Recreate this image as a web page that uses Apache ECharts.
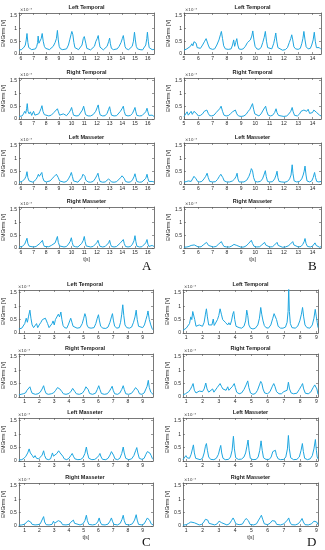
<!DOCTYPE html>
<html>
<head>
<meta charset="utf-8">
<script src="https://cdn.jsdelivr.net/npm/echarts@6/dist/echarts.min.js"></script>
<style>html,body{margin:0;padding:0;background:#fff;}#c{width:325px;height:550px;}</style>
</head>
<body>
<div id="c"></div>
<script>
// ---- titles & ticks ----
const subTitles = ['Left Temporal','Right Temporal','Left Masseter','Right Masseter'];
const yTicks = [0, 0.5, 1, 1.5];
const yTickLabels = ['0','0.5','1','1.5'];
const ticksA = [6,7,8,9,10,11,12,13,14,15,16];
const ticksB = [5,6,7,8,9,10,11,12,13,14];
const ticksC = [1,2,3,4,5,6,7,8,9];
const ticksD = [1,2,3,4,5,6,7,8,9];

// ---- Panel A (units 1e-4 V) ----
const A_leftTemporal = [[5.85,0.16],[5.95,0.18],[6.05,0.17],[6.15,0.2],[6.25,0.27],[6.35,0.35],[6.42,0.55],[6.48,0.8],[6.55,0.45],[6.62,0.25],[6.72,0.2],[6.85,0.17],[7.0,0.18],[7.15,0.2],[7.25,0.3],[7.32,0.45],[7.36,0.7],[7.42,0.42],[7.5,0.48],[7.6,0.6],[7.68,0.8],[7.76,0.5],[7.85,0.3],[7.95,0.22],[8.1,0.18],[8.25,0.17],[8.4,0.2],[8.55,0.3],[8.7,0.45],[8.8,0.6],[8.88,0.92],[8.95,0.55],[9.02,0.3],[9.12,0.2],[9.3,0.17],[9.45,0.18],[9.6,0.2],[9.75,0.35],[9.85,0.55],[9.95,0.75],[10.02,0.88],[10.1,0.75],[10.18,0.45],[10.26,0.25],[10.4,0.18],[10.55,0.17],[10.7,0.2],[10.82,0.35],[10.92,0.6],[11.0,0.68],[11.06,0.62],[11.12,0.42],[11.2,0.22],[11.35,0.17],[11.5,0.16],[11.65,0.18],[11.8,0.3],[11.92,0.5],[12.02,0.6],[12.1,0.72],[12.16,0.5],[12.24,0.27],[12.35,0.2],[12.5,0.16],[12.65,0.18],[12.8,0.3],[12.92,0.48],[13.0,0.62],[13.06,0.4],[13.14,0.22],[13.3,0.17],[13.45,0.16],[13.6,0.2],[13.75,0.3],[13.9,0.45],[14.0,0.6],[14.08,0.72],[14.15,0.5],[14.22,0.28],[14.32,0.2],[14.5,0.17],[14.65,0.18],[14.78,0.3],[14.88,0.5],[14.96,0.85],[15.03,0.55],[15.1,0.3],[15.2,0.2],[15.4,0.17],[15.6,0.16],[15.75,0.2],[15.85,0.35],[15.93,0.6],[15.98,0.85],[16.05,0.5],[16.12,0.25],[16.22,0.18],[16.35,0.17],[16.5,0.18]];
const A_rightTemporal = [[5.85,0.1],[6.0,0.14],[6.1,0.12],[6.2,0.2],[6.3,0.3],[6.38,0.22],[6.45,0.4],[6.5,0.6],[6.56,0.3],[6.65,0.2],[6.75,0.28],[6.85,0.14],[7.0,0.3],[7.1,0.15],[7.25,0.13],[7.4,0.2],[7.5,0.3],[7.6,0.42],[7.66,0.52],[7.74,0.3],[7.85,0.17],[8.0,0.13],[8.2,0.12],[8.4,0.15],[8.6,0.25],[8.75,0.32],[8.88,0.4],[8.96,0.28],[9.05,0.15],[9.2,0.12],[9.35,0.2],[9.42,0.13],[9.6,0.13],[9.8,0.25],[9.92,0.35],[10.0,0.45],[10.07,0.3],[10.15,0.15],[10.35,0.12],[10.55,0.13],[10.7,0.18],[10.85,0.35],[10.95,0.5],[11.02,0.35],[11.1,0.17],[11.3,0.12],[11.5,0.12],[11.7,0.17],[11.9,0.3],[12.02,0.45],[12.1,0.55],[12.17,0.32],[12.25,0.16],[12.45,0.12],[12.65,0.13],[12.8,0.22],[12.92,0.38],[13.0,0.48],[13.07,0.3],[13.15,0.15],[13.35,0.12],[13.55,0.13],[13.7,0.2],[13.85,0.3],[14.0,0.42],[14.08,0.5],[14.15,0.3],[14.25,0.15],[14.45,0.12],[14.65,0.14],[14.8,0.22],[14.92,0.35],[15.0,0.45],[15.07,0.28],[15.15,0.14],[15.35,0.12],[15.55,0.13],[15.7,0.18],[15.85,0.28],[15.95,0.42],[16.02,0.28],[16.1,0.14],[16.25,0.12],[16.35,0.15],[16.5,0.1]];
const A_leftMasseter = [[5.85,0.07],[6.0,0.09],[6.1,0.1],[6.2,0.15],[6.3,0.2],[6.4,0.3],[6.48,0.48],[6.55,0.25],[6.65,0.12],[6.8,0.08],[6.95,0.07],[7.1,0.1],[7.2,0.18],[7.3,0.28],[7.38,0.38],[7.45,0.3],[7.55,0.35],[7.65,0.45],[7.72,0.25],[7.82,0.12],[8.0,0.08],[8.15,0.07],[8.3,0.12],[8.45,0.2],[8.6,0.28],[8.7,0.3],[8.8,0.38],[8.88,0.45],[8.95,0.25],[9.05,0.12],[9.2,0.08],[9.4,0.07],[9.6,0.1],[9.75,0.2],[9.88,0.32],[9.98,0.45],[10.06,0.3],[10.15,0.12],[10.3,0.08],[10.5,0.07],[10.65,0.12],[10.8,0.25],[10.9,0.38],[10.98,0.45],[11.05,0.3],[11.12,0.15],[11.3,0.08],[11.5,0.07],[11.7,0.1],[11.85,0.2],[11.98,0.32],[12.08,0.42],[12.15,0.25],[12.24,0.1],[12.45,0.07],[12.65,0.08],[12.8,0.14],[12.92,0.2],[13.0,0.25],[13.06,0.15],[13.15,0.08],[13.35,0.07],[13.55,0.09],[13.7,0.15],[13.85,0.24],[13.98,0.32],[14.08,0.38],[14.15,0.22],[14.25,0.1],[14.45,0.07],[14.65,0.08],[14.8,0.16],[14.92,0.28],[15.0,0.4],[15.07,0.25],[15.15,0.1],[15.35,0.07],[15.55,0.08],[15.7,0.12],[15.85,0.22],[15.95,0.38],[16.02,0.22],[16.1,0.1],[16.25,0.07],[16.35,0.1],[16.5,0.08]];
const A_rightMasseter = [[5.85,0.04],[6.0,0.05],[6.1,0.06],[6.2,0.1],[6.3,0.15],[6.4,0.2],[6.48,0.38],[6.55,0.18],[6.65,0.07],[6.8,0.05],[7.0,0.04],[7.2,0.06],[7.35,0.12],[7.5,0.18],[7.62,0.24],[7.7,0.3],[7.77,0.15],[7.85,0.06],[8.0,0.04],[8.2,0.05],[8.4,0.1],[8.55,0.15],[8.7,0.2],[8.8,0.25],[8.88,0.45],[8.95,0.22],[9.05,0.08],[9.2,0.05],[9.4,0.04],[9.6,0.06],[9.75,0.15],[9.88,0.25],[9.98,0.4],[10.05,0.22],[10.13,0.08],[10.3,0.05],[10.5,0.04],[10.65,0.08],[10.8,0.18],[10.92,0.3],[11.0,0.45],[11.07,0.25],[11.15,0.08],[11.3,0.05],[11.5,0.04],[11.7,0.06],[11.85,0.12],[11.98,0.2],[12.08,0.3],[12.15,0.18],[12.23,0.07],[12.45,0.04],[12.65,0.06],[12.8,0.12],[12.92,0.2],[13.0,0.3],[13.07,0.15],[13.15,0.06],[13.35,0.04],[13.55,0.06],[13.7,0.12],[13.85,0.2],[13.98,0.26],[14.08,0.33],[14.15,0.18],[14.25,0.06],[14.45,0.04],[14.65,0.06],[14.8,0.15],[14.92,0.28],[15.0,0.48],[15.07,0.25],[15.15,0.07],[15.35,0.04],[15.55,0.05],[15.7,0.1],[15.85,0.2],[15.95,0.33],[16.02,0.15],[16.1,0.06],[16.25,0.08],[16.35,0.1],[16.5,0.06]];

// ---- Panel B ----
const B_leftTemporal = [[5.0,0.15],[5.1,0.18],[5.2,0.2],[5.3,0.22],[5.45,0.3],[5.55,0.4],[5.62,0.32],[5.7,0.48],[5.78,0.55],[5.85,0.42],[5.92,0.25],[6.0,0.2],[6.15,0.22],[6.3,0.35],[6.45,0.5],[6.55,0.6],[6.62,0.55],[6.7,0.35],[6.8,0.22],[7.0,0.18],[7.15,0.2],[7.3,0.35],[7.45,0.55],[7.55,0.75],[7.62,0.88],[7.7,0.6],[7.78,0.32],[7.9,0.2],[8.1,0.18],[8.3,0.2],[8.4,0.35],[8.48,0.55],[8.55,0.3],[8.62,0.45],[8.7,0.6],[8.77,0.35],[8.85,0.2],[9.0,0.18],[9.15,0.2],[9.3,0.3],[9.45,0.45],[9.55,0.4],[9.65,0.55],[9.75,0.7],[9.82,0.9],[9.9,0.55],[9.98,0.3],[10.1,0.2],[10.25,0.18],[10.4,0.25],[10.52,0.45],[10.62,0.65],[10.7,0.88],[10.78,0.5],[10.86,0.25],[11.0,0.18],[11.15,0.2],[11.28,0.4],[11.36,0.6],[11.43,0.82],[11.5,0.5],[11.58,0.25],[11.7,0.18],[11.9,0.15],[12.1,0.17],[12.25,0.25],[12.38,0.45],[12.48,0.6],[12.55,0.75],[12.62,0.55],[12.7,0.28],[12.82,0.2],[13.0,0.18],[13.15,0.22],[13.25,0.4],[13.33,0.6],[13.4,0.88],[13.48,0.55],[13.56,0.28],[13.7,0.2],[13.85,0.22],[13.95,0.35],[14.05,0.55],[14.13,0.85],[14.2,0.5],[14.28,0.25],[14.38,0.2],[14.48,0.25],[14.6,0.18]];
const B_rightTemporal = [[5.0,0.1],[5.12,0.15],[5.22,0.28],[5.3,0.15],[5.42,0.22],[5.5,0.3],[5.58,0.18],[5.7,0.3],[5.8,0.35],[5.9,0.2],[6.0,0.12],[6.15,0.14],[6.3,0.2],[6.42,0.3],[6.5,0.25],[6.6,0.35],[6.7,0.22],[6.8,0.13],[6.95,0.12],[7.1,0.15],[7.25,0.25],[7.38,0.3],[7.5,0.4],[7.6,0.5],[7.7,0.3],[7.8,0.15],[7.95,0.12],[8.1,0.13],[8.25,0.2],[8.4,0.28],[8.5,0.3],[8.6,0.35],[8.7,0.2],[8.82,0.12],[9.0,0.1],[9.2,0.12],[9.35,0.18],[9.5,0.3],[9.62,0.38],[9.72,0.45],[9.8,0.6],[9.88,0.38],[9.96,0.2],[10.1,0.13],[10.25,0.12],[10.4,0.2],[10.55,0.35],[10.65,0.4],[10.72,0.5],[10.8,0.3],[10.9,0.15],[11.05,0.12],[11.2,0.14],[11.35,0.25],[11.45,0.4],[11.52,0.25],[11.62,0.14],[11.8,0.12],[12.0,0.1],[12.2,0.12],[12.35,0.2],[12.48,0.3],[12.58,0.45],[12.65,0.28],[12.75,0.14],[12.95,0.12],[13.1,0.2],[13.2,0.3],[13.3,0.25],[13.4,0.35],[13.5,0.28],[13.6,0.3],[13.7,0.38],[13.8,0.22],[13.9,0.15],[14.0,0.25],[14.1,0.35],[14.2,0.4],[14.3,0.25],[14.4,0.3],[14.5,0.15],[14.6,0.12]];
const B_leftMasseter = [[5.0,0.08],[5.15,0.09],[5.3,0.12],[5.4,0.15],[5.5,0.1],[5.6,0.2],[5.7,0.3],[5.78,0.35],[5.85,0.2],[5.95,0.1],[6.1,0.08],[6.25,0.1],[6.4,0.2],[6.52,0.3],[6.62,0.42],[6.7,0.25],[6.8,0.1],[7.0,0.08],[7.2,0.09],[7.35,0.18],[7.48,0.3],[7.58,0.38],[7.65,0.42],[7.72,0.25],[7.82,0.12],[8.0,0.08],[8.2,0.08],[8.4,0.12],[8.55,0.2],[8.65,0.3],[8.72,0.42],[8.78,0.2],[8.86,0.08],[9.0,0.07],[9.2,0.08],[9.4,0.15],[9.55,0.3],[9.65,0.45],[9.72,0.6],[9.8,0.52],[9.88,0.25],[9.98,0.1],[10.15,0.08],[10.35,0.1],[10.5,0.2],[10.6,0.35],[10.7,0.52],[10.76,0.3],[10.85,0.1],[11.0,0.08],[11.2,0.09],[11.35,0.2],[11.45,0.35],[11.52,0.5],[11.58,0.25],[11.66,0.1],[11.85,0.08],[12.05,0.07],[12.25,0.1],[12.4,0.2],[12.5,0.35],[12.58,0.75],[12.64,0.4],[12.72,0.12],[12.9,0.08],[13.1,0.1],[13.25,0.2],[13.35,0.35],[13.42,0.5],[13.48,0.7],[13.55,0.35],[13.62,0.12],[13.8,0.08],[13.95,0.12],[14.05,0.25],[14.15,0.45],[14.22,0.25],[14.3,0.1],[14.45,0.08],[14.55,0.12],[14.6,0.1]];
const B_rightMasseter = [[5.0,0.03],[5.2,0.04],[5.35,0.06],[5.5,0.1],[5.62,0.15],[5.72,0.12],[5.82,0.06],[6.0,0.04],[6.2,0.05],[6.35,0.12],[6.48,0.18],[6.58,0.22],[6.65,0.2],[6.72,0.1],[6.85,0.04],[7.05,0.04],[7.25,0.06],[7.4,0.14],[7.52,0.2],[7.62,0.25],[7.7,0.15],[7.8,0.06],[8.0,0.04],[8.2,0.04],[8.35,0.08],[8.5,0.14],[8.62,0.18],[8.7,0.1],[8.8,0.04],[9.0,0.03],[9.2,0.04],[9.35,0.08],[9.5,0.16],[9.62,0.22],[9.72,0.3],[9.8,0.18],[9.9,0.07],[10.1,0.04],[10.3,0.05],[10.45,0.12],[10.55,0.18],[10.65,0.22],[10.72,0.12],[10.82,0.05],[11.0,0.04],[11.2,0.05],[11.35,0.12],[11.45,0.18],[11.52,0.22],[11.6,0.1],[11.7,0.04],[11.9,0.03],[12.1,0.04],[12.3,0.08],[12.45,0.15],[12.55,0.2],[12.62,0.25],[12.7,0.12],[12.8,0.05],[13.0,0.04],[13.2,0.06],[13.32,0.14],[13.42,0.25],[13.48,0.37],[13.55,0.18],[13.65,0.06],[13.85,0.04],[14.0,0.07],[14.1,0.14],[14.18,0.2],[14.26,0.1],[14.36,0.04],[14.5,0.03],[14.6,0.05]];

// ---- Panel C ----
const C_leftTemporal = [[0.6,0.15],[0.7,0.2],[0.8,0.18],[0.9,0.25],[1.0,0.35],[1.1,0.55],[1.18,0.4],[1.25,0.6],[1.35,0.85],[1.42,0.55],[1.5,0.3],[1.6,0.2],[1.7,0.22],[1.8,0.35],[1.88,0.2],[1.98,0.3],[2.1,0.4],[2.2,0.5],[2.3,0.52],[2.4,0.55],[2.47,0.6],[2.55,0.35],[2.65,0.2],[2.75,0.15],[2.85,0.35],[2.92,0.45],[3.0,0.3],[3.08,0.5],[3.18,0.55],[3.28,0.7],[3.36,0.6],[3.45,0.78],[3.52,0.5],[3.6,0.28],[3.7,0.2],[3.85,0.18],[3.95,0.3],[4.05,0.45],[4.12,0.55],[4.2,0.4],[4.28,0.25],[4.4,0.2],[4.55,0.18],[4.75,0.2],[4.9,0.35],[5.0,0.55],[5.08,0.72],[5.15,0.6],[5.22,0.3],[5.32,0.2],[5.5,0.18],[5.7,0.2],[5.82,0.35],[5.92,0.55],[6.0,0.68],[6.07,0.45],[6.15,0.25],[6.3,0.18],[6.5,0.17],[6.65,0.22],[6.78,0.4],[6.88,0.6],[6.95,0.72],[7.02,0.45],[7.1,0.25],[7.25,0.18],[7.4,0.2],[7.5,0.4],[7.58,0.7],[7.65,1.05],[7.72,0.65],[7.8,0.3],[7.92,0.2],[8.1,0.18],[8.25,0.22],[8.38,0.4],[8.48,0.6],[8.56,0.85],[8.63,0.5],[8.72,0.25],[8.85,0.18],[9.0,0.2],[9.12,0.3],[9.22,0.5],[9.3,0.65],[9.36,0.82],[9.45,0.5],[9.55,0.3],[9.65,0.15],[9.7,0.12]];
const C_rightTemporal = [[0.6,0.08],[0.75,0.1],[0.9,0.12],[1.05,0.15],[1.15,0.25],[1.25,0.32],[1.35,0.38],[1.42,0.25],[1.5,0.14],[1.62,0.18],[1.72,0.1],[1.9,0.12],[2.05,0.18],[2.18,0.3],[2.28,0.42],[2.36,0.25],[2.45,0.13],[2.6,0.1],[2.8,0.12],[2.95,0.15],[3.1,0.25],[3.22,0.35],[3.3,0.4],[3.38,0.3],[3.45,0.35],[3.52,0.2],[3.62,0.12],[3.8,0.1],[4.0,0.13],[4.15,0.22],[4.25,0.32],[4.32,0.35],[4.4,0.2],[4.5,0.12],[4.7,0.1],[4.9,0.14],[5.05,0.25],[5.15,0.38],[5.22,0.45],[5.3,0.28],[5.4,0.13],[5.6,0.1],[5.8,0.14],[5.92,0.28],[6.02,0.42],[6.1,0.28],[6.2,0.13],[6.4,0.1],[6.6,0.12],[6.75,0.22],[6.85,0.32],[6.93,0.4],[7.0,0.25],[7.1,0.12],[7.3,0.1],[7.45,0.15],[7.58,0.28],[7.68,0.42],[7.75,0.28],[7.85,0.12],[8.05,0.1],[8.25,0.14],[8.4,0.25],[8.52,0.35],[8.6,0.42],[8.68,0.25],[8.78,0.12],[8.95,0.1],[9.1,0.15],[9.22,0.3],[9.3,0.4],[9.38,0.62],[9.45,0.35],[9.55,0.18],[9.65,0.12],[9.7,0.1]];
const C_leftMasseter = [[0.6,0.04],[0.8,0.05],[0.95,0.1],[1.08,0.18],[1.2,0.3],[1.3,0.45],[1.38,0.3],[1.45,0.35],[1.52,0.2],[1.6,0.12],[1.7,0.2],[1.8,0.1],[1.95,0.08],[2.05,0.12],[2.18,0.22],[2.28,0.38],[2.35,0.2],[2.45,0.08],[2.6,0.05],[2.75,0.08],[2.88,0.3],[2.95,0.18],[3.05,0.2],[3.18,0.28],[3.3,0.38],[3.4,0.3],[3.5,0.3],[3.58,0.18],[3.68,0.08],[3.85,0.05],[4.0,0.1],[4.12,0.2],[4.22,0.28],[4.3,0.18],[4.4,0.08],[4.6,0.05],[4.8,0.06],[4.95,0.12],[5.08,0.28],[5.18,0.52],[5.25,0.3],[5.35,0.1],[5.55,0.05],[5.75,0.06],[5.9,0.12],[6.02,0.2],[6.1,0.28],[6.18,0.15],[6.28,0.06],[6.5,0.05],[6.65,0.1],[6.78,0.22],[6.88,0.35],[6.95,0.38],[7.02,0.22],[7.12,0.08],[7.3,0.05],[7.45,0.1],[7.58,0.28],[7.68,0.52],[7.75,0.3],[7.85,0.1],[8.05,0.05],[8.25,0.08],[8.4,0.2],[8.52,0.38],[8.6,0.5],[8.67,0.3],[8.77,0.1],[8.95,0.06],[9.1,0.1],[9.22,0.25],[9.32,0.35],[9.4,0.42],[9.48,0.3],[9.58,0.2],[9.65,0.1],[9.7,0.06]];
const C_rightMasseter = [[0.6,0.03],[0.8,0.04],[0.95,0.06],[1.1,0.12],[1.22,0.2],[1.32,0.25],[1.4,0.15],[1.5,0.06],[1.7,0.04],[1.9,0.05],[2.05,0.08],[2.18,0.15],[2.28,0.35],[2.35,0.15],[2.45,0.05],[2.65,0.04],[2.85,0.06],[2.95,0.18],[3.02,0.1],[3.15,0.12],[3.28,0.2],[3.38,0.25],[3.46,0.15],[3.56,0.05],[3.8,0.04],[4.0,0.06],[4.12,0.14],[4.22,0.2],[4.3,0.22],[4.38,0.1],[4.5,0.04],[4.75,0.04],[4.95,0.08],[5.08,0.2],[5.18,0.4],[5.25,0.2],[5.35,0.06],[5.6,0.04],[5.8,0.06],[5.95,0.15],[6.05,0.3],[6.12,0.15],[6.22,0.05],[6.45,0.04],[6.65,0.07],[6.78,0.18],[6.88,0.3],[6.95,0.18],[7.05,0.06],[7.3,0.04],[7.48,0.1],[7.6,0.25],[7.68,0.4],[7.75,0.2],[7.85,0.06],[8.1,0.04],[8.3,0.08],[8.45,0.22],[8.56,0.42],[8.63,0.22],[8.72,0.06],[8.95,0.04],[9.1,0.08],[9.22,0.2],[9.32,0.3],[9.4,0.35],[9.48,0.2],[9.58,0.08],[9.7,0.04]];

// ---- Panel D ----
const D_leftTemporal = [[0.8,0.1],[0.9,0.15],[1.0,0.18],[1.1,0.25],[1.2,0.35],[1.28,0.6],[1.34,0.5],[1.4,0.8],[1.46,0.85],[1.52,0.5],[1.6,0.25],[1.7,0.2],[1.8,0.3],[1.9,0.28],[2.0,0.25],[2.1,0.4],[2.18,0.7],[2.24,0.9],[2.3,0.6],[2.38,0.3],[2.48,0.25],[2.58,0.3],[2.66,0.52],[2.72,0.28],[2.82,0.3],[2.92,0.5],[3.0,0.65],[3.08,0.9],[3.16,0.7],[3.24,0.5],[3.32,0.45],[3.4,0.4],[3.48,0.45],[3.55,0.3],[3.62,0.38],[3.7,0.3],[3.78,0.45],[3.86,0.7],[3.92,0.8],[3.98,0.5],[4.06,0.25],[4.15,0.3],[4.25,0.2],[4.4,0.18],[4.55,0.25],[4.65,0.45],[4.72,0.85],[4.78,0.65],[4.85,0.3],[4.95,0.18],[5.1,0.15],[5.25,0.18],[5.4,0.3],[5.5,0.55],[5.58,0.95],[5.64,0.7],[5.72,0.45],[5.8,0.28],[5.9,0.2],[6.05,0.18],[6.2,0.3],[6.32,0.55],[6.4,0.72],[6.48,0.75],[6.55,0.5],[6.65,0.25],[6.8,0.18],[6.95,0.18],[7.1,0.22],[7.2,0.4],[7.26,0.8],[7.3,1.65],[7.34,0.8],[7.4,0.35],[7.5,0.2],[7.7,0.18],[7.85,0.25],[7.98,0.45],[8.08,0.7],[8.15,0.95],[8.22,0.6],[8.3,0.3],[8.42,0.2],[8.6,0.18],[8.75,0.3],[8.85,0.55],[8.93,0.88],[9.0,0.6],[9.05,0.4],[9.1,0.2]];
const D_rightTemporal = [[0.8,0.08],[0.95,0.12],[1.05,0.15],[1.15,0.2],[1.25,0.28],[1.35,0.4],[1.42,0.5],[1.5,0.25],[1.6,0.15],[1.7,0.2],[1.8,0.22],[1.9,0.18],[2.0,0.2],[2.1,0.3],[2.2,0.52],[2.28,0.3],[2.38,0.18],[2.5,0.2],[2.62,0.3],[2.7,0.18],[2.8,0.25],[2.9,0.35],[3.0,0.42],[3.08,0.5],[3.16,0.4],[3.25,0.3],[3.35,0.28],[3.45,0.25],[3.55,0.38],[3.62,0.25],[3.72,0.3],[3.85,0.4],[3.95,0.5],[4.02,0.35],[4.1,0.18],[4.25,0.12],[4.4,0.15],[4.55,0.28],[4.68,0.45],[4.78,0.6],[4.85,0.35],[4.95,0.15],[5.1,0.1],[5.25,0.13],[5.38,0.25],[5.5,0.45],[5.58,0.58],[5.65,0.5],[5.72,0.3],[5.82,0.15],[6.0,0.12],[6.15,0.2],[6.28,0.38],[6.38,0.5],[6.45,0.4],[6.55,0.2],[6.7,0.12],[6.85,0.12],[7.0,0.2],[7.1,0.15],[7.2,0.25],[7.28,0.55],[7.35,0.3],[7.45,0.15],[7.6,0.12],[7.8,0.14],[7.95,0.28],[8.08,0.42],[8.15,0.5],[8.22,0.3],[8.32,0.14],[8.5,0.12],[8.65,0.18],[8.8,0.35],[8.9,0.45],[8.97,0.5],[9.03,0.3],[9.1,0.1]];
const D_leftMasseter = [[0.8,0.05],[0.9,0.12],[0.98,0.2],[1.05,0.12],[1.12,0.15],[1.2,0.1],[1.3,0.25],[1.38,0.45],[1.44,0.6],[1.5,0.3],[1.58,0.1],[1.7,0.06],[1.85,0.05],[2.0,0.1],[2.1,0.3],[2.18,0.55],[2.24,0.65],[2.3,0.4],[2.38,0.15],[2.5,0.06],[2.7,0.05],[2.85,0.1],[2.98,0.25],[3.06,0.45],[3.12,0.58],[3.18,0.3],[3.26,0.1],[3.4,0.05],[3.6,0.06],[3.72,0.15],[3.82,0.4],[3.9,0.92],[3.96,0.45],[4.04,0.12],[4.2,0.06],[4.4,0.07],[4.55,0.15],[4.65,0.3],[4.73,0.55],[4.8,0.78],[4.86,0.4],[4.94,0.1],[5.1,0.05],[5.3,0.06],[5.42,0.15],[5.52,0.4],[5.6,0.75],[5.67,0.4],[5.75,0.12],[5.9,0.06],[6.1,0.06],[6.22,0.15],[6.32,0.35],[6.4,0.42],[6.48,0.4],[6.55,0.2],[6.65,0.08],[6.8,0.05],[7.0,0.06],[7.12,0.15],[7.22,0.45],[7.28,0.95],[7.34,0.45],[7.42,0.12],[7.6,0.05],[7.8,0.06],[7.95,0.15],[8.06,0.4],[8.14,0.65],[8.2,0.35],[8.28,0.1],[8.45,0.05],[8.62,0.08],[8.75,0.2],[8.85,0.45],[8.94,0.8],[9.0,0.4],[9.05,0.15],[9.1,0.08]];
const D_rightMasseter = [[0.8,0.03],[1.0,0.05],[1.15,0.1],[1.28,0.15],[1.4,0.2],[1.5,0.12],[1.6,0.05],[1.8,0.04],[1.95,0.06],[2.08,0.15],[2.18,0.25],[2.24,0.2],[2.32,0.22],[2.4,0.1],[2.52,0.04],[2.75,0.04],[2.9,0.08],[3.02,0.18],[3.1,0.25],[3.18,0.12],[3.28,0.05],[3.5,0.04],[3.65,0.08],[3.78,0.2],[3.88,0.3],[3.95,0.22],[4.05,0.08],[4.25,0.05],[4.45,0.07],[4.58,0.2],[4.68,0.28],[4.75,0.35],[4.82,0.2],[4.92,0.06],[5.15,0.04],[5.32,0.08],[5.45,0.22],[5.55,0.32],[5.62,0.4],[5.7,0.25],[5.8,0.08],[6.0,0.05],[6.15,0.1],[6.28,0.2],[6.38,0.25],[6.46,0.18],[6.56,0.06],[6.8,0.04],[7.0,0.08],[7.12,0.12],[7.22,0.22],[7.3,0.3],[7.37,0.15],[7.47,0.05],[7.7,0.04],[7.88,0.08],[8.02,0.18],[8.12,0.28],[8.2,0.15],[8.3,0.05],[8.5,0.04],[8.7,0.08],[8.85,0.18],[8.95,0.25],[9.02,0.15],[9.1,0.05]];

// ---- layout ----
const panels = [
  {letter:'A', xMin:5.85, xMax:16.5, ticks:ticksA, left:19, width:135, tops:[13,78,143,207], h:41, lx:148, ly:268,
   data:[A_leftTemporal,A_rightTemporal,A_leftMasseter,A_rightMasseter]},
  {letter:'B', xMin:5.0, xMax:14.6, ticks:ticksB, left:184, width:137, tops:[13,78,143,207], h:41, lx:314, ly:268,
   data:[B_leftTemporal,B_rightTemporal,B_leftMasseter,B_rightMasseter]},
  {letter:'C', xMin:0.6, xMax:9.7, ticks:ticksC, left:17, width:136, tops:[290,354,418,483], h:43, lx:148, ly:544,
   data:[C_leftTemporal,C_rightTemporal,C_leftMasseter,C_rightMasseter]},
  {letter:'D', xMin:0.8, xMax:9.1, ticks:ticksD, left:183, width:135, tops:[290,354,418,483], h:43, lx:313, ly:544,
   data:[D_leftTemporal,D_rightTemporal,D_leftMasseter,D_rightMasseter]}
];

const axisColor = '#555';
const lineColor = '#1ea6e0';
const FONT = 'Liberation Sans, Arial, sans-serif';

const grid = [], xAxis = [], yAxis = [], series = [], title = [], graphic = [];
let gi = 0;
panels.forEach(p => {
  p.tops.forEach((top, r) => {
    grid.push({left:p.left, top:top, width:p.width, height:p.h, containLabel:false});
    const lineStyle = {color:axisColor, width:0.8};
    const tickBase = {show:true, inside:true, length:2, lineStyle:{color:axisColor, width:0.6}};
    xAxis.push({type:'value', gridIndex:gi, min:p.xMin, max:p.xMax, position:'bottom',
      axisLine:{show:true, onZero:false, lineStyle},
      axisTick:Object.assign({customValues:p.ticks}, tickBase),
      axisLabel:{customValues:p.ticks, fontSize:5, margin:2, color:'#262626', fontFamily:FONT},
      splitLine:{show:false},
      name: r === 3 ? 't[s]' : '', nameLocation:'middle', nameGap:9,
      nameTextStyle:{fontSize:5, color:'#262626', fontFamily:FONT}});
    xAxis.push({type:'value', gridIndex:gi, min:p.xMin, max:p.xMax, position:'top',
      axisLine:{show:true, onZero:false, lineStyle},
      axisTick:Object.assign({customValues:p.ticks}, tickBase),
      axisLabel:{show:false}, splitLine:{show:false}});
    yAxis.push({type:'value', gridIndex:gi, min:0, max:1.6, position:'left',
      axisLine:{show:true, onZero:false, lineStyle},
      axisTick:Object.assign({customValues:yTicks}, tickBase),
      axisLabel:{customValues:yTicks, fontSize:5, margin:2, color:'#262626', fontFamily:FONT,
        formatter: v => yTickLabels[yTicks.indexOf(Math.round(v*100)/100)] ?? ''},
      splitLine:{show:false},
      name:'EMGrms [V]', nameLocation:'middle', nameGap:10, nameRotate:90,
      nameTextStyle:{fontSize:5, color:'#262626', fontFamily:FONT}});
    yAxis.push({type:'value', gridIndex:gi, min:0, max:1.6, position:'right',
      axisLine:{show:true, onZero:false, lineStyle},
      axisTick:Object.assign({customValues:yTicks}, tickBase),
      axisLabel:{show:false}, splitLine:{show:false}});
    series.push({type:'line', xAxisIndex:2*gi, yAxisIndex:2*gi, data:p.data[r],
      showSymbol:false, symbol:'none', silent:true,
      lineStyle:{color:lineColor, width:1}, itemStyle:{color:lineColor}});
    title.push({text:subTitles[r], left:p.left + p.width/2, top:top - 9, textAlign:'center',
      textStyle:{fontSize:5.5, fontWeight:'bold', color:'#222', fontFamily:FONT}, padding:0});
    graphic.push({type:'text', left:p.left + 1, top:top - 5,
      style:{text:'×10⁻⁴', fontSize:4, fill:'#333', fontFamily:'DejaVu Sans, sans-serif'}});
    gi++;
  });
  graphic.push({type:'text', left:p.lx - 6, top:p.ly - 8,
    style:{text:p.letter, fontSize:13, fill:'#111', fontFamily:'Liberation Serif, Times New Roman, serif'}});
});

const chart = echarts.init(document.getElementById('c'), null, {renderer:'canvas'});
chart.setOption({animation:false, backgroundColor:'#fff', title, grid, xAxis, yAxis, series, graphic});
</script>
</body>
</html>
